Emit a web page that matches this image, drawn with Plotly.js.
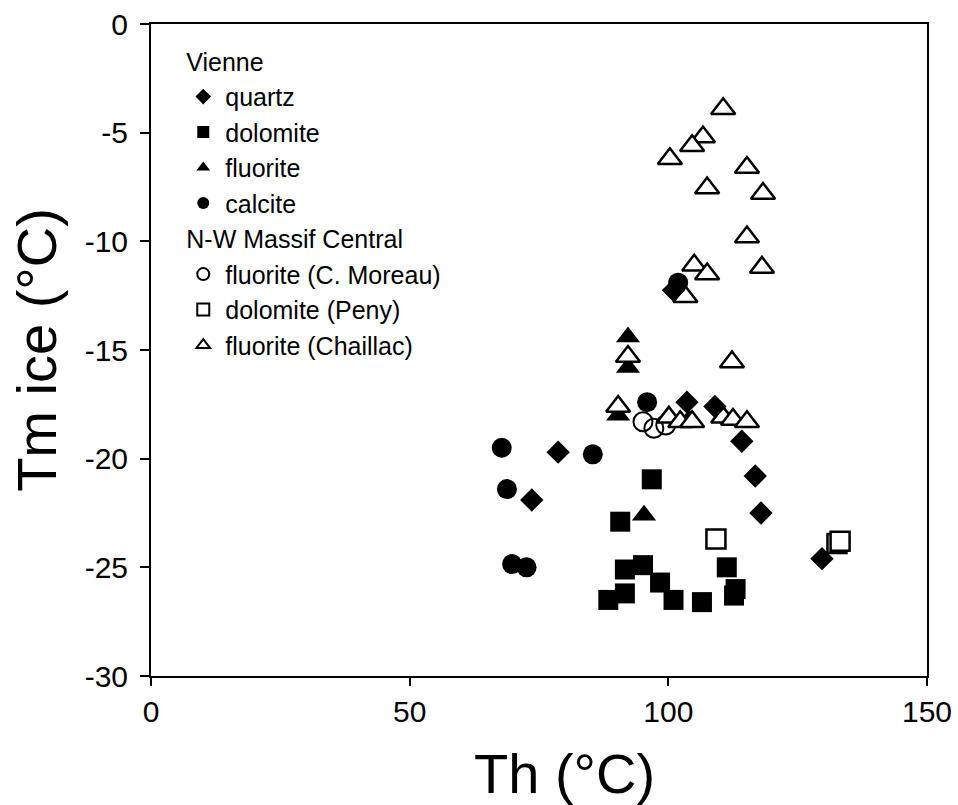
<!DOCTYPE html>
<html>
<head>
<meta charset="utf-8">
<script src="https://cdn.plot.ly/plotly-3.0.1.min.js"></script>
<style>html,body{margin:0;padding:0;background:#fff;}#chart{width:958px;height:805px;}</style>
</head>
<body>
<div id="chart"></div>
<script>
// Vienne
const quartzTh   = [78.7, 73.6, 101.0, 103.6, 109.0, 114.2, 116.8, 117.9, 129.7];
const quartzTm   = [-19.7, -21.9, -12.25, -17.4, -17.6, -19.2, -20.8, -22.5, -24.6];
const dolomiteTh = [96.8, 90.7, 91.6, 95.1, 98.4, 88.4, 91.6, 101.0, 106.5, 111.3, 113.0, 112.7];
const dolomiteTm = [-20.95, -22.9, -25.1, -24.9, -25.7, -26.5, -26.2, -26.5, -26.6, -25.0, -26.0, -26.3];
const fluoriteTh = [92.2, 92.2, 90.3, 95.3, 104.0];
const fluoriteTm = [-14.4, -15.8, -18.0, -22.6, -18.2];
const calciteTh  = [67.8, 68.8, 69.8, 72.6, 85.4, 95.9, 101.9];
const calciteTm  = [-19.5, -21.4, -24.85, -25.0, -19.8, -17.4, -11.9];
// N-W Massif Central
const moreauTh   = [95.1, 97.2, 99.5];
const moreauTm   = [-18.3, -18.6, -18.45];
const penyTh     = [109.2, 132.6, 133.2];
const penyTm     = [-23.7, -23.9, -23.8];
const chaillacTh = [110.6, 106.7, 104.6, 100.3, 115.2, 107.5, 118.3, 115.2, 118.1, 105.0, 107.5, 103.3, 112.3, 92.2, 90.3, 100.1, 102.3, 104.6, 110.6, 112.5, 115.2];
const chaillacTm = [-3.9, -5.2, -5.6, -6.2, -6.6, -7.55, -7.8, -9.8, -11.2, -11.1, -11.5, -12.55, -15.55, -15.3, -17.6, -18.1, -18.3, -18.3, -18.1, -18.2, -18.3];

const xTicks = [0, 50, 100, 150];
const yTicks = [0, -5, -10, -15, -20, -25, -30];
const xTitle = 'Th (°C)';
const yTitle = 'Tm ice (°C)';
const groupVienne = 'Vienne';
const groupNW = 'N-W Massif Central';

const FONT = 'Liberation Sans, Arial, sans-serif';

function tr(name, x, y, symbol, size, fill, lw, group, rank) {
  return {
    type: 'scatter', mode: 'markers', name: name, x: x, y: y,
    legendgroup: group, legendgrouptitle: {text: group, font: {size: 25, color: '#000', family: FONT}},
    legendrank: rank,
    marker: {symbol: symbol, size: size, color: fill, line: {color: '#000', width: lw}},
    hoverinfo: 'x+y'
  };
}

const data = [
  tr('dolomite', dolomiteTh, dolomiteTm, 'square', 20, '#000', 0, groupVienne, 2),
  tr('fluorite', fluoriteTh, fluoriteTm, 'triangle-up', 21, '#000', 0, groupVienne, 3),
  tr('dolomite (Peny)', penyTh, penyTm, 'square', 19, '#fff', 2.5, groupNW, 6),
  tr('fluorite (C. Moreau)', moreauTh, moreauTm, 'circle-open', 19, '#000', 2, groupNW, 5),
  tr('fluorite (Chaillac)', chaillacTh, chaillacTm, 'triangle-up', 21, '#fff', 2.5, groupNW, 7),
  tr('calcite', calciteTh, calciteTm, 'circle', 20, '#000', 0, groupVienne, 4),
  tr('quartz', quartzTh, quartzTm, 'diamond', 18, '#000', 0, groupVienne, 1)
];

const layout = {
  width: 958, height: 805,
  margin: {l: 151, r: 31, t: 24, b: 129},
  paper_bgcolor: '#fff', plot_bgcolor: '#fff',
  font: {family: FONT, color: '#000', size: 25},
  showlegend: true,
  legend: {
    x: 0.039, y: 0.978, xanchor: 'left', yanchor: 'top',
    bgcolor: 'rgba(0,0,0,0)', borderwidth: 0,
    font: {size: 25, family: FONT, color: '#000'},
    itemsizing: 'constant', traceorder: 'grouped', tracegroupgap: 0,
    itemwidth: 34, itemclick: false
  },
  xaxis: {
    range: [0, 150], tickvals: xTicks, ticktext: xTicks.map(String),
    ticks: 'outside', ticklen: 8, tickwidth: 2, tickcolor: '#000',
    showline: true, linewidth: 2, linecolor: '#000', mirror: true,
    showgrid: false, zeroline: false,
    tickfont: {size: 30, family: FONT, color: '#000'},
    ticklabelstandoff: 0
  },
  yaxis: {
    range: [-30, 0], tickvals: yTicks, ticktext: yTicks.map(String),
    ticks: 'outside', ticklen: 9, tickwidth: 2, tickcolor: '#000',
    showline: true, linewidth: 2, linecolor: '#000', mirror: true,
    showgrid: false, zeroline: false,
    tickfont: {size: 30, family: FONT, color: '#000'},
    ticklabelstandoff: 6,
    title: {text: yTitle, font: {size: 56, family: FONT, color: '#000'}, standoff: 10}
  },
  annotations: [{
    text: xTitle, xref: 'paper', yref: 'paper', x: 0.533, y: -0.149,
    xanchor: 'center', yanchor: 'middle', showarrow: false,
    font: {size: 56, family: FONT, color: '#000'}
  }]
};

Plotly.newPlot('chart', data, layout, {displayModeBar: false, staticPlot: true});
</script>
</body>
</html>
